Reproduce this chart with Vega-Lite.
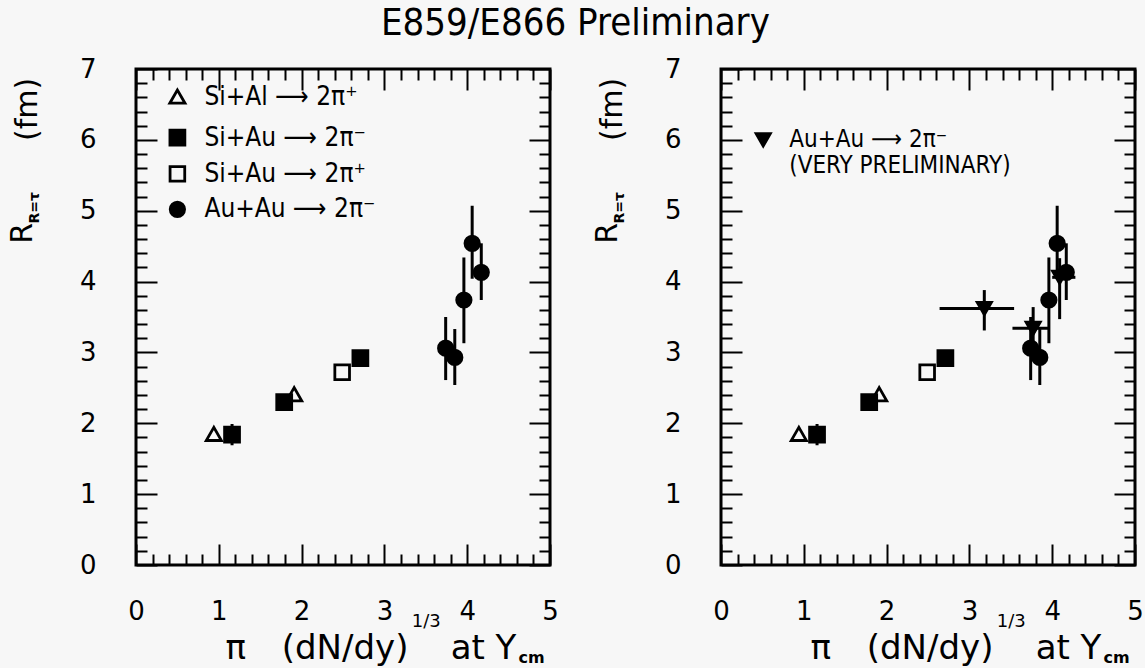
{
  "$schema": "https://vega.github.io/schema/vega-lite/v6.json",
  "background": "#f7f7f7",
  "padding": {"left": 6, "top": 4, "right": 0, "bottom": 0},
  "title": {"text": "E859/E866 Preliminary", "font": "DejaVu Sans Condensed, DejaVu Sans", "fontSize": 38, "fontWeight": "normal", "color": "black", "anchor": "middle", "offset": 12},
  "datasets": {
    "pts": [
      {"s": "SiAl+", "x": 0.94, "y": 1.85},
      {"s": "SiAl+", "x": 1.91, "y": 2.41},
      {"s": "SiAu-", "x": 1.16, "y": 1.84, "ylo": 1.69, "yhi": 1.99},
      {"s": "SiAu-", "x": 1.79, "y": 2.3, "ylo": 2.19, "yhi": 2.41},
      {"s": "SiAu-", "x": 2.71, "y": 2.92},
      {"s": "SiAu+", "x": 2.49, "y": 2.72},
      {"s": "AuAu-", "x": 3.74, "y": 3.06, "ylo": 2.61, "yhi": 3.5},
      {"s": "AuAu-", "x": 3.85, "y": 2.93, "ylo": 2.54, "yhi": 3.33},
      {"s": "AuAu-", "x": 3.96, "y": 3.74, "ylo": 3.13, "yhi": 4.34},
      {"s": "AuAu-", "x": 4.06, "y": 4.54, "ylo": 4.04, "yhi": 5.07},
      {"s": "AuAu-", "x": 4.17, "y": 4.13, "ylo": 3.74, "yhi": 4.54},
      {"s": "AuAuVP", "x": 3.18, "y": 3.62, "xlo": 2.64, "xhi": 3.54, "ylo": 3.31, "yhi": 3.88},
      {"s": "AuAuVP", "x": 3.77, "y": 3.34, "xlo": 3.52, "xhi": 3.96, "ylo": 3.06, "yhi": 3.64},
      {"s": "AuAuVP", "x": 4.09, "y": 4.06, "xlo": 4.0, "xhi": 4.28, "ylo": 3.47, "yhi": 4.33}
    ],
    "leg": [
      {"p": "L", "s": "SiAl+", "lx": 0.5, "ly": 6.61, "t": "Si+Al ⟶ 2π⁺"},
      {"p": "L", "s": "SiAu-", "lx": 0.5, "ly": 6.03, "t": "Si+Au ⟶ 2π⁻"},
      {"p": "L", "s": "SiAu+", "lx": 0.5, "ly": 5.52, "t": "Si+Au ⟶ 2π⁺"},
      {"p": "L", "s": "AuAu-", "lx": 0.5, "ly": 5.02, "t": "Au+Au ⟶ 2π⁻"},
      {"p": "R", "s": "AuAuVP", "lx": 0.51, "ly": 6.0, "t": "Au+Au ⟶ 2π⁻"},
      {"p": "R", "lx": 0.51, "ly": 5.63, "t": "(VERY PRELIMINARY)"}
    ],
    "ytit": [
      {"k": "fm", "t": "(fm)", "x": -1.3, "y": 6.43},
      {"k": "R", "t": "R", "x": -1.37, "y": 4.68},
      {"k": "sub", "t": "R=τ", "x": -1.22, "y": 5.04}
    ],
    "xtit": [
      {"k": "big", "t": "π", "x": 1.08, "y": -1.33},
      {"k": "big", "t": "(dN/dy)", "x": 1.76, "y": -1.33},
      {"k": "sup", "t": "1/3", "x": 3.33, "y": -0.88},
      {"k": "big", "t": "at Y", "x": 3.8, "y": -1.33},
      {"k": "sub", "t": "cm", "x": 4.62, "y": -1.39}
    ]
  },
  "spacing": 31,
  "hconcat": [
    {
      "width": 414,
      "height": 496,
      "resolve": {"axis": {"x": "independent", "y": "independent"}},
      "layer": [
        {
          "data": {"name": "pts"},
          "transform": [{"filter": "isValid(datum.ylo) && datum.s != 'AuAuVP'"}],
          "mark": {"type": "rule", "color": "black", "strokeWidth": 3},
          "encoding": {
            "x": {"field": "x", "type": "quantitative", "scale": {"domain": [0, 5], "nice": false, "zero": false},
              "axis": {"orient": "bottom", "values": [0, 1, 2, 3, 4, 5], "ticks": false, "domain": false, "grid": false, "labelFlush": false, "labelOverlap": false, "labelPadding": 33, "labelFontSize": 26, "labelFont": "DejaVu Sans", "labelColor": "black", "title": null}},
            "y": {"field": "ylo", "type": "quantitative", "scale": {"domain": [0, 7], "nice": false, "zero": false},
              "axis": {"orient": "left", "values": [0, 1, 2, 3, 4, 5, 6, 7], "ticks": false, "domain": false, "grid": false, "labelFlush": false, "labelOverlap": false, "labelPadding": 40, "labelFontSize": 26, "labelFont": "DejaVu Sans", "labelColor": "black", "title": null}},
            "y2": {"field": "yhi"}
          }
        },
        {
          "data": {"name": "pts"},
          "transform": [{"filter": "datum.s != 'AuAuVP'"}],
          "mark": {"type": "point", "filled": true, "stroke": "black", "strokeWidth": 2.8, "opacity": 1},
          "encoding": {
            "x": {"field": "x", "type": "quantitative", "scale": {"domain": [0, 5], "nice": false, "zero": false},
              "axis": {"orient": "bottom", "values": [0, 1, 2, 3, 4, 5], "labels": false, "domain": false, "grid": false, "ticks": true, "tickSize": -21, "tickWidth": 2, "tickColor": "black", "title": null}},
            "y": {"field": "y", "type": "quantitative", "scale": {"domain": [0, 7], "nice": false, "zero": false},
              "axis": {"orient": "left", "values": [0, 1, 2, 3, 4, 5, 6, 7], "labels": false, "domain": false, "grid": false, "ticks": true, "tickSize": -21, "tickWidth": 2, "tickColor": "black", "title": null}},
            "shape": {"field": "s", "type": "nominal", "legend": null, "scale": {"domain": ["SiAl+", "SiAu-", "SiAu+", "AuAu-", "AuAuVP"], "range": ["triangle-up", "square", "square", "circle", "triangle-down"]}},
            "fill": {"field": "s", "type": "nominal", "legend": null, "scale": {"domain": ["SiAl+", "SiAu-", "SiAu+", "AuAu-", "AuAuVP"], "range": ["#f7f7f7", "black", "#f7f7f7", "black", "black"]}},
            "size": {"field": "s", "type": "ordinal", "legend": null, "scale": {"domain": ["SiAl+", "SiAu-", "SiAu+", "AuAu-", "AuAuVP"], "range": [230, 200, 190, 210, 220]}}
          }
        },
        {
          "data": {"name": "leg"},
          "transform": [{"filter": "datum.p == 'L' && isValid(datum.s)"}],
          "mark": {"type": "point", "filled": true, "stroke": "black", "strokeWidth": 2.8, "opacity": 1},
          "encoding": {
            "x": {"field": "lx", "type": "quantitative", "scale": {"domain": [0, 5], "nice": false, "zero": false},
              "axis": {"orient": "bottom", "values": [0.2, 0.4, 0.6, 0.8, 1.2, 1.4, 1.6, 1.8, 2.2, 2.4, 2.6, 2.8, 3.2, 3.4, 3.6, 3.8, 4.2, 4.4, 4.6, 4.8], "labels": false, "domain": false, "grid": false, "ticks": true, "tickSize": -11, "tickWidth": 2, "tickColor": "black", "title": null}},
            "y": {"field": "ly", "type": "quantitative", "scale": {"domain": [0, 7], "nice": false, "zero": false},
              "axis": {"orient": "left", "values": [0.2, 0.4, 0.6, 0.8, 1.2, 1.4, 1.6, 1.8, 2.2, 2.4, 2.6, 2.8, 3.2, 3.4, 3.6, 3.8, 4.2, 4.4, 4.6, 4.8, 5.2, 5.4, 5.6, 5.8, 6.2, 6.4, 6.6, 6.8], "labels": false, "domain": false, "grid": false, "ticks": true, "tickSize": -11, "tickWidth": 2, "tickColor": "black", "title": null}},
            "shape": {"field": "s", "type": "nominal", "legend": null, "scale": {"domain": ["SiAl+", "SiAu-", "SiAu+", "AuAu-", "AuAuVP"], "range": ["triangle-up", "square", "square", "circle", "triangle-down"]}},
            "fill": {"field": "s", "type": "nominal", "legend": null, "scale": {"domain": ["SiAl+", "SiAu-", "SiAu+", "AuAu-", "AuAuVP"], "range": ["#f7f7f7", "black", "#f7f7f7", "black", "black"]}},
            "size": {"field": "s", "type": "ordinal", "legend": null, "scale": {"domain": ["SiAl+", "SiAu-", "SiAu+", "AuAu-", "AuAuVP"], "range": [180, 170, 160, 190, 190]}}
          }
        },
        {
          "data": {"name": "leg"},
          "transform": [{"filter": "datum.p == 'L'"}],
          "mark": {"type": "text", "align": "left", "baseline": "middle", "dx": 27, "font": "DejaVu Sans Condensed, DejaVu Sans", "fontSize": 26, "color": "black"},
          "encoding": {
            "x": {"field": "lx", "type": "quantitative", "scale": {"domain": [0, 5], "nice": false, "zero": false},
              "axis": {"orient": "top", "values": [0, 1, 2, 3, 4, 5], "labels": false, "domain": false, "grid": false, "ticks": true, "tickSize": -21, "tickWidth": 2, "tickColor": "black", "title": null}},
            "y": {"field": "ly", "type": "quantitative", "scale": {"domain": [0, 7], "nice": false, "zero": false},
              "axis": {"orient": "right", "values": [0, 1, 2, 3, 4, 5, 6, 7], "labels": false, "domain": false, "grid": false, "ticks": true, "tickSize": -21, "tickWidth": 2, "tickColor": "black", "title": null}},
            "text": {"field": "t"}
          }
        },
        {
          "data": {"name": "ytit"},
          "transform": [{"filter": "datum.k == 'fm'"}],
          "mark": {"type": "text", "align": "center", "baseline": "middle", "angle": 270, "font": "DejaVu Sans", "fontSize": 30, "color": "black"},
          "encoding": {
            "x": {"field": "x", "type": "quantitative", "scale": {"domain": [0, 5], "nice": false, "zero": false},
              "axis": {"orient": "top", "values": [0.2, 0.4, 0.6, 0.8, 1.2, 1.4, 1.6, 1.8, 2.2, 2.4, 2.6, 2.8, 3.2, 3.4, 3.6, 3.8, 4.2, 4.4, 4.6, 4.8], "labels": false, "domain": false, "grid": false, "ticks": true, "tickSize": -11, "tickWidth": 2, "tickColor": "black", "title": null}},
            "y": {"field": "y", "type": "quantitative", "scale": {"domain": [0, 7], "nice": false, "zero": false},
              "axis": {"orient": "right", "values": [0.2, 0.4, 0.6, 0.8, 1.2, 1.4, 1.6, 1.8, 2.2, 2.4, 2.6, 2.8, 3.2, 3.4, 3.6, 3.8, 4.2, 4.4, 4.6, 4.8, 5.2, 5.4, 5.6, 5.8, 6.2, 6.4, 6.6, 6.8], "labels": false, "domain": false, "grid": false, "ticks": true, "tickSize": -11, "tickWidth": 2, "tickColor": "black", "title": null}},
            "text": {"field": "t"}
          }
        },
        {
          "data": {"name": "ytit"},
          "transform": [{"filter": "datum.k == 'R'"}],
          "mark": {"type": "text", "align": "center", "baseline": "middle", "angle": 270, "font": "DejaVu Sans", "fontSize": 30, "color": "black"},
          "encoding": {
            "x": {"field": "x", "type": "quantitative", "axis": null},
            "y": {"field": "y", "type": "quantitative", "axis": null},
            "text": {"field": "t"}
          }
        },
        {
          "data": {"name": "ytit"},
          "transform": [{"filter": "datum.k == 'sub'"}],
          "mark": {"type": "text", "align": "center", "baseline": "middle", "angle": 270, "font": "DejaVu Sans", "fontSize": 14, "fontWeight": "bold", "color": "black"},
          "encoding": {
            "x": {"field": "x", "type": "quantitative", "axis": null},
            "y": {"field": "y", "type": "quantitative", "axis": null},
            "text": {"field": "t"}
          }
        },
        {
          "data": {"name": "xtit"},
          "transform": [{"filter": "datum.k == 'big'"}],
          "mark": {"type": "text", "align": "left", "baseline": "alphabetic", "font": "DejaVu Sans", "fontSize": 34, "color": "black"},
          "encoding": {
            "x": {"field": "x", "type": "quantitative", "axis": null},
            "y": {"field": "y", "type": "quantitative", "axis": null},
            "text": {"field": "t"}
          }
        },
        {
          "data": {"name": "xtit"},
          "transform": [{"filter": "datum.k == 'sup'"}],
          "mark": {"type": "text", "align": "left", "baseline": "alphabetic", "font": "DejaVu Sans", "fontSize": 18, "color": "black"},
          "encoding": {
            "x": {"field": "x", "type": "quantitative", "axis": null},
            "y": {"field": "y", "type": "quantitative", "axis": null},
            "text": {"field": "t"}
          }
        },
        {
          "data": {"name": "xtit"},
          "transform": [{"filter": "datum.k == 'sub'"}],
          "mark": {"type": "text", "align": "left", "baseline": "alphabetic", "font": "DejaVu Sans", "fontSize": 16, "fontWeight": "bold", "color": "black"},
          "encoding": {
            "x": {"field": "x", "type": "quantitative", "axis": null},
            "y": {"field": "y", "type": "quantitative", "axis": null},
            "text": {"field": "t"}
          }
        }
      ]
    },
    {
      "width": 414,
      "height": 496,
      "resolve": {"axis": {"x": "independent", "y": "independent"}},
      "layer": [
        {
          "data": {"name": "pts"},
          "transform": [{"filter": "isValid(datum.ylo)"}],
          "mark": {"type": "rule", "color": "black", "strokeWidth": 3},
          "encoding": {
            "x": {"field": "x", "type": "quantitative", "scale": {"domain": [0, 5], "nice": false, "zero": false},
              "axis": {"orient": "bottom", "values": [0, 1, 2, 3, 4, 5], "ticks": false, "domain": false, "grid": false, "labelFlush": false, "labelOverlap": false, "labelPadding": 33, "labelFontSize": 26, "labelFont": "DejaVu Sans", "labelColor": "black", "title": null}},
            "y": {"field": "ylo", "type": "quantitative", "scale": {"domain": [0, 7], "nice": false, "zero": false},
              "axis": {"orient": "left", "values": [0, 1, 2, 3, 4, 5, 6, 7], "ticks": false, "domain": false, "grid": false, "labelFlush": false, "labelOverlap": false, "labelPadding": 40, "labelFontSize": 26, "labelFont": "DejaVu Sans", "labelColor": "black", "title": null}},
            "y2": {"field": "yhi"}
          }
        },
        {
          "data": {"name": "pts"},
          "transform": [{"filter": "isValid(datum.xlo)"}],
          "mark": {"type": "rule", "color": "black", "strokeWidth": 3},
          "encoding": {
            "x": {"field": "xlo", "type": "quantitative", "scale": {"domain": [0, 5], "nice": false, "zero": false},
              "axis": {"orient": "bottom", "values": [0, 1, 2, 3, 4, 5], "labels": false, "domain": false, "grid": false, "ticks": true, "tickSize": -21, "tickWidth": 2, "tickColor": "black", "title": null}},
            "x2": {"field": "xhi"},
            "y": {"field": "y", "type": "quantitative", "scale": {"domain": [0, 7], "nice": false, "zero": false},
              "axis": {"orient": "left", "values": [0, 1, 2, 3, 4, 5, 6, 7], "labels": false, "domain": false, "grid": false, "ticks": true, "tickSize": -21, "tickWidth": 2, "tickColor": "black", "title": null}}
          }
        },
        {
          "data": {"name": "pts"},
          "mark": {"type": "point", "filled": true, "stroke": "black", "strokeWidth": 2.8, "opacity": 1},
          "encoding": {
            "x": {"field": "x", "type": "quantitative", "scale": {"domain": [0, 5], "nice": false, "zero": false},
              "axis": {"orient": "bottom", "values": [0.2, 0.4, 0.6, 0.8, 1.2, 1.4, 1.6, 1.8, 2.2, 2.4, 2.6, 2.8, 3.2, 3.4, 3.6, 3.8, 4.2, 4.4, 4.6, 4.8], "labels": false, "domain": false, "grid": false, "ticks": true, "tickSize": -11, "tickWidth": 2, "tickColor": "black", "title": null}},
            "y": {"field": "y", "type": "quantitative", "scale": {"domain": [0, 7], "nice": false, "zero": false},
              "axis": {"orient": "left", "values": [0.2, 0.4, 0.6, 0.8, 1.2, 1.4, 1.6, 1.8, 2.2, 2.4, 2.6, 2.8, 3.2, 3.4, 3.6, 3.8, 4.2, 4.4, 4.6, 4.8, 5.2, 5.4, 5.6, 5.8, 6.2, 6.4, 6.6, 6.8], "labels": false, "domain": false, "grid": false, "ticks": true, "tickSize": -11, "tickWidth": 2, "tickColor": "black", "title": null}},
            "shape": {"field": "s", "type": "nominal", "legend": null, "scale": {"domain": ["SiAl+", "SiAu-", "SiAu+", "AuAu-", "AuAuVP"], "range": ["triangle-up", "square", "square", "circle", "triangle-down"]}},
            "fill": {"field": "s", "type": "nominal", "legend": null, "scale": {"domain": ["SiAl+", "SiAu-", "SiAu+", "AuAu-", "AuAuVP"], "range": ["#f7f7f7", "black", "#f7f7f7", "black", "black"]}},
            "size": {"field": "s", "type": "ordinal", "legend": null, "scale": {"domain": ["SiAl+", "SiAu-", "SiAu+", "AuAu-", "AuAuVP"], "range": [230, 200, 190, 210, 220]}}
          }
        },
        {
          "data": {"name": "leg"},
          "transform": [{"filter": "datum.p == 'R' && isValid(datum.s)"}],
          "mark": {"type": "point", "filled": true, "stroke": "black", "strokeWidth": 2.8, "opacity": 1},
          "encoding": {
            "x": {"field": "lx", "type": "quantitative", "scale": {"domain": [0, 5], "nice": false, "zero": false},
              "axis": {"orient": "top", "values": [0, 1, 2, 3, 4, 5], "labels": false, "domain": false, "grid": false, "ticks": true, "tickSize": -21, "tickWidth": 2, "tickColor": "black", "title": null}},
            "y": {"field": "ly", "type": "quantitative", "scale": {"domain": [0, 7], "nice": false, "zero": false},
              "axis": {"orient": "right", "values": [0, 1, 2, 3, 4, 5, 6, 7], "labels": false, "domain": false, "grid": false, "ticks": true, "tickSize": -21, "tickWidth": 2, "tickColor": "black", "title": null}},
            "shape": {"field": "s", "type": "nominal", "legend": null, "scale": {"domain": ["SiAl+", "SiAu-", "SiAu+", "AuAu-", "AuAuVP"], "range": ["triangle-up", "square", "square", "circle", "triangle-down"]}},
            "fill": {"field": "s", "type": "nominal", "legend": null, "scale": {"domain": ["SiAl+", "SiAu-", "SiAu+", "AuAu-", "AuAuVP"], "range": ["#f7f7f7", "black", "#f7f7f7", "black", "black"]}},
            "size": {"field": "s", "type": "ordinal", "legend": null, "scale": {"domain": ["SiAl+", "SiAu-", "SiAu+", "AuAu-", "AuAuVP"], "range": [180, 170, 160, 190, 190]}}
          }
        },
        {
          "data": {"name": "leg"},
          "transform": [{"filter": "datum.p == 'R'"}],
          "mark": {"type": "text", "align": "left", "baseline": "middle", "dx": 26, "font": "DejaVu Sans Condensed, DejaVu Sans", "fontSize": 24, "color": "black"},
          "encoding": {
            "x": {"field": "lx", "type": "quantitative", "scale": {"domain": [0, 5], "nice": false, "zero": false},
              "axis": {"orient": "top", "values": [0.2, 0.4, 0.6, 0.8, 1.2, 1.4, 1.6, 1.8, 2.2, 2.4, 2.6, 2.8, 3.2, 3.4, 3.6, 3.8, 4.2, 4.4, 4.6, 4.8], "labels": false, "domain": false, "grid": false, "ticks": true, "tickSize": -11, "tickWidth": 2, "tickColor": "black", "title": null}},
            "y": {"field": "ly", "type": "quantitative", "scale": {"domain": [0, 7], "nice": false, "zero": false},
              "axis": {"orient": "right", "values": [0.2, 0.4, 0.6, 0.8, 1.2, 1.4, 1.6, 1.8, 2.2, 2.4, 2.6, 2.8, 3.2, 3.4, 3.6, 3.8, 4.2, 4.4, 4.6, 4.8, 5.2, 5.4, 5.6, 5.8, 6.2, 6.4, 6.6, 6.8], "labels": false, "domain": false, "grid": false, "ticks": true, "tickSize": -11, "tickWidth": 2, "tickColor": "black", "title": null}},
            "text": {"field": "t"}
          }
        },
        {
          "data": {"name": "ytit"},
          "transform": [{"filter": "datum.k == 'fm'"}],
          "mark": {"type": "text", "align": "center", "baseline": "middle", "angle": 270, "font": "DejaVu Sans", "fontSize": 30, "color": "black"},
          "encoding": {
            "x": {"field": "x", "type": "quantitative", "axis": null},
            "y": {"field": "y", "type": "quantitative", "axis": null},
            "text": {"field": "t"}
          }
        },
        {
          "data": {"name": "ytit"},
          "transform": [{"filter": "datum.k == 'R'"}],
          "mark": {"type": "text", "align": "center", "baseline": "middle", "angle": 270, "font": "DejaVu Sans", "fontSize": 30, "color": "black"},
          "encoding": {
            "x": {"field": "x", "type": "quantitative", "axis": null},
            "y": {"field": "y", "type": "quantitative", "axis": null},
            "text": {"field": "t"}
          }
        },
        {
          "data": {"name": "ytit"},
          "transform": [{"filter": "datum.k == 'sub'"}],
          "mark": {"type": "text", "align": "center", "baseline": "middle", "angle": 270, "font": "DejaVu Sans", "fontSize": 14, "fontWeight": "bold", "color": "black"},
          "encoding": {
            "x": {"field": "x", "type": "quantitative", "axis": null},
            "y": {"field": "y", "type": "quantitative", "axis": null},
            "text": {"field": "t"}
          }
        },
        {
          "data": {"name": "xtit"},
          "transform": [{"filter": "datum.k == 'big'"}],
          "mark": {"type": "text", "align": "left", "baseline": "alphabetic", "font": "DejaVu Sans", "fontSize": 34, "color": "black"},
          "encoding": {
            "x": {"field": "x", "type": "quantitative", "axis": null},
            "y": {"field": "y", "type": "quantitative", "axis": null},
            "text": {"field": "t"}
          }
        },
        {
          "data": {"name": "xtit"},
          "transform": [{"filter": "datum.k == 'sup'"}],
          "mark": {"type": "text", "align": "left", "baseline": "alphabetic", "font": "DejaVu Sans", "fontSize": 18, "color": "black"},
          "encoding": {
            "x": {"field": "x", "type": "quantitative", "axis": null},
            "y": {"field": "y", "type": "quantitative", "axis": null},
            "text": {"field": "t"}
          }
        },
        {
          "data": {"name": "xtit"},
          "transform": [{"filter": "datum.k == 'sub'"}],
          "mark": {"type": "text", "align": "left", "baseline": "alphabetic", "font": "DejaVu Sans", "fontSize": 16, "fontWeight": "bold", "color": "black"},
          "encoding": {
            "x": {"field": "x", "type": "quantitative", "axis": null},
            "y": {"field": "y", "type": "quantitative", "axis": null},
            "text": {"field": "t"}
          }
        }
      ]
    }
  ],
  "config": {
    "view": {"stroke": "black", "strokeWidth": 3},
    "axis": {"grid": false}
  }
}
